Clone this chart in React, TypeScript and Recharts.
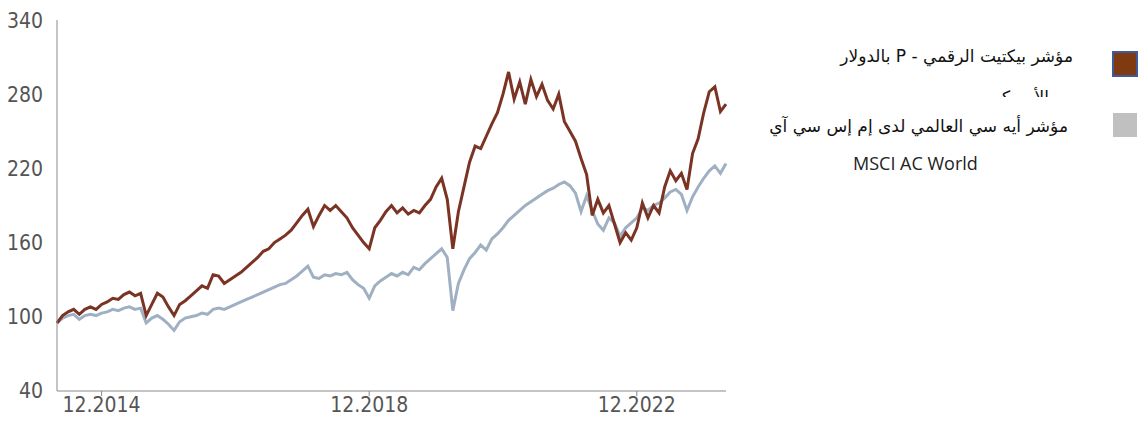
import React from 'react';
import { LineChart, Line, XAxis, YAxis } from 'recharts';

// monthly closes, 04.2014 -> 04.2024 (rebased to 100)
const pictetDigital = [
  95, 101, 104, 106, 102, 106, 108, 106, 110, 112, 115, 114, 118, 120, 117, 119,
  101, 110, 119, 116, 108, 101, 110, 113, 117, 121, 125, 123, 134, 133, 127, 130,
  133, 136, 140, 144, 148, 153, 155, 160, 163, 166, 170, 176, 182, 187, 173, 182,
  190, 186, 190, 185, 180, 172, 166, 160, 155, 172, 178, 185, 190, 184, 188, 183,
  186, 184, 190, 195, 205, 212, 195, 155, 185, 205, 225, 238, 236, 246, 256, 265,
  280, 298, 276, 290, 272, 292, 278, 288, 275, 268, 280, 258, 250, 242, 228, 215,
  182, 195, 184, 190, 175, 160, 168, 162, 172, 192, 180, 190, 184, 205, 218, 210,
  216, 203, 232, 244, 265, 282, 286, 266, 272,
];

const msciAcWorld = [
  95, 99, 101, 102, 98, 101, 102, 101, 103, 104, 106, 105, 107, 108, 106, 107,
  95, 99, 101, 98, 94, 89, 96, 99, 100, 101, 103, 102, 106, 107, 106, 108,
  110, 112, 114, 116, 118, 120, 122, 124, 126, 127, 130, 133, 137, 141, 132, 131,
  134, 133, 135, 134, 136, 130, 126, 123, 115, 125, 129, 132, 135, 133, 136, 134,
  140, 138, 143, 147, 151, 155, 148, 105, 127, 138, 147, 152, 158, 154, 163, 167,
  172, 178, 182, 186, 190, 193, 196, 199, 202, 204, 207, 209, 206, 200, 185, 198,
  186, 175, 170, 180, 176, 165, 172, 176, 180, 188, 186, 190, 192, 196, 201, 203,
  199, 186, 197, 205, 212, 218, 222, 216, 224,
];

const startYear = 2014;
const startMonth = 4;

const xTicks = ['12.2014', '12.2018', '12.2022'];
const yTicks = [40, 100, 160, 220, 280, 340];

const legendDigital = 'مؤشر بيكتيت الرقمي - P بالدولار';
const legendDigitalCut = 'الأمريكي';
const legendMsci = 'مؤشر أيه سي العالمي لدى إم إس سي آي';
const legendMsciEn = 'MSCI AC World';

const monthLabel = (i: number) => {
  const total = startMonth - 1 + i;
  const y = startYear + Math.floor(total / 12);
  const m = (total % 12) + 1;
  return `${m < 10 ? '0' + m : m}.${y}`;
};

const data = pictetDigital.map((v, i) => ({
  month: monthLabel(i),
  digital: v,
  msci: msciAcWorld[i],
}));

const axisFont = '"DejaVu Sans Condensed", "Liberation Sans Narrow", sans-serif';
const arFont = '"DejaVu Sans", sans-serif';

export default function App() {
  return (
    <div style={{ position: 'relative', width: 1131, height: 411, background: '#fff' }}>
      <LineChart width={740} height={411} data={data} margin={{ top: 12, right: 22, left: 0, bottom: 0 }}>
        <XAxis
          dataKey="month"
          ticks={xTicks}
          interval={0}
          height={28}
          stroke="#8a8a8a"
          tickSize={5}
          tickMargin={1}
          tick={{ fill: '#555', fontSize: 21, fontFamily: axisFont, style: { fontStretch: 'condensed' } }}
        />
        <YAxis
          domain={[40, 340]}
          ticks={yTicks}
          width={49}
          stroke="#8a8a8a"
          tickLine={false}
          tickMargin={8}
          tick={{ fill: '#555', fontSize: 21, fontFamily: axisFont, style: { fontStretch: 'condensed' } }}
        />
        <Line type="linear" dataKey="msci" stroke="#9fb0c3" strokeWidth={3} dot={false} isAnimationActive={false} />
        <Line type="linear" dataKey="digital" stroke="#7b3324" strokeWidth={3} dot={false} isAnimationActive={false} />
      </LineChart>

      {/* legend, drawn by hand to the right of the plot */}
      <div style={{ position: 'absolute', left: 1104, top: 43, width: 22, height: 22, background: '#7f3a12', border: '2px solid #3d5a99' }} />
      <div style={{ position: 'absolute', left: 1105, top: 105, width: 24, height: 24, background: '#c0c0c0' }} />

      <div style={{ position: 'absolute', right: 66, top: 38, direction: 'rtl', fontFamily: arFont, fontSize: 17, color: '#111', whiteSpace: 'nowrap' }}>
        {legendDigital}
      </div>
      <div style={{ position: 'absolute', right: 90, top: 79, height: 10, overflow: 'hidden', direction: 'rtl', fontFamily: arFont, fontSize: 17, color: '#111', whiteSpace: 'nowrap' }}>
        {legendDigitalCut}
      </div>
      <div style={{ position: 'absolute', right: 71, top: 108, direction: 'rtl', fontFamily: arFont, fontSize: 17, color: '#111', whiteSpace: 'nowrap' }}>
        {legendMsci}
      </div>
      <div style={{ position: 'absolute', left: 845, top: 143, fontFamily: '"Open Sans", sans-serif', fontSize: 18, color: '#222', whiteSpace: 'nowrap' }}>
        {legendMsciEn}
      </div>
    </div>
  );
}
